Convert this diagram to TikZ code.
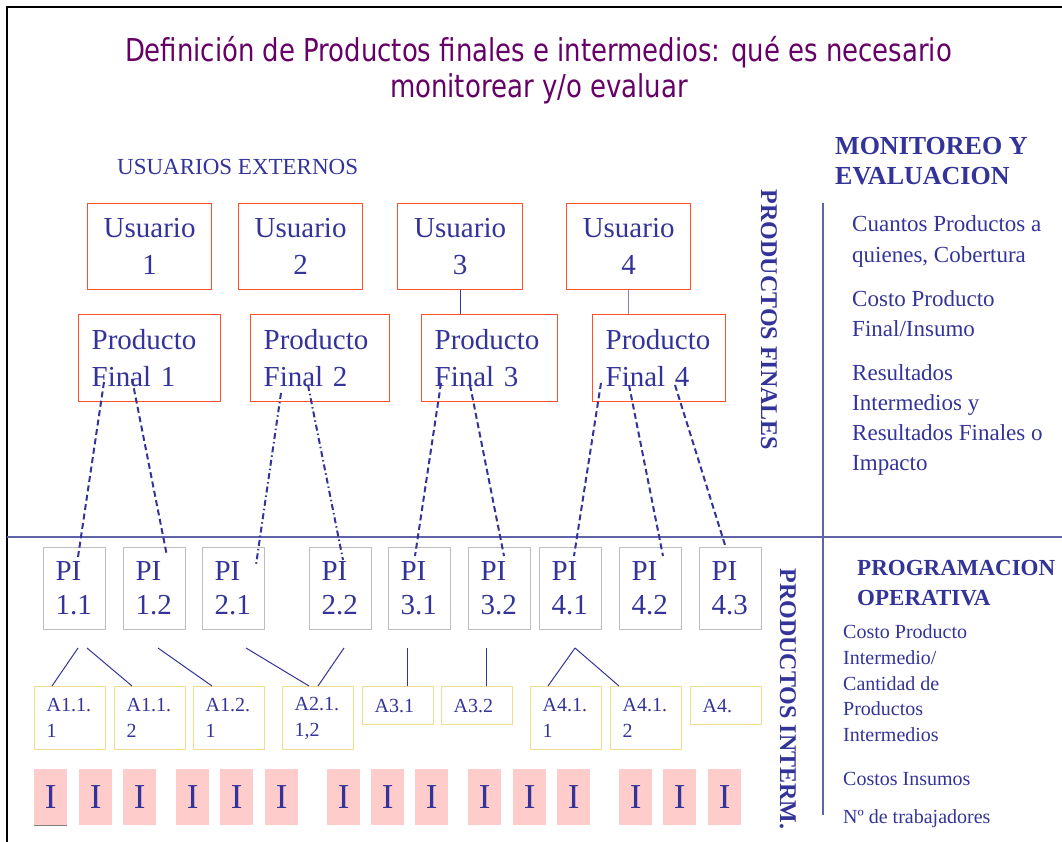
\documentclass[tikz,border=0pt]{standalone}
\usepackage{fontspec}
\usepackage{graphicx}
\setmainfont{Liberation Serif}
\newfontfamily\titlefont{DejaVu Sans}
\definecolor{navy}{RGB}{51,51,153}
\definecolor{ttl}{RGB}{102,0,102}
\definecolor{redb}{RGB}{255,80,40}
\definecolor{grayb}{RGB}{190,190,190}
\definecolor{yelb}{RGB}{240,220,140}
\definecolor{pinkf}{RGB}{255,204,204}
\definecolor{divl}{RGB}{95,100,168}
\definecolor{lightnavy}{RGB}{130,130,190}
\begin{document}
\begin{tikzpicture}[x=1pt,y=-1pt,
  ubox/.style={draw=redb, line width=1.3pt, anchor=north west, minimum width=124pt, minimum height=86pt,
    inner sep=0pt, align=center, text=navy, font=\fontsize{29pt}{37pt}\selectfont},
  pfbox/.style={draw=redb, line width=1.3pt, anchor=north west, minimum height=87pt,
    inner xsep=13pt, inner ysep=0pt, align=left, text=navy, font=\fontsize{29pt}{37pt}\selectfont},
  pibox/.style={draw=grayb, line width=1.2pt, anchor=north west, minimum height=82pt,
    inner xsep=12pt, inner ysep=0pt, text width=38pt, align=left, text=navy, font=\fontsize{29pt}{34pt}\selectfont},
  abox/.style={draw=yelb, line width=1.2pt, anchor=north west,
    inner xsep=12pt, inner ysep=0pt, text width=47pt, align=left, text=navy, font=\fontsize{20pt}{26pt}\selectfont},
  ibox/.style={fill=pinkf, anchor=north west, minimum width=33pt, minimum height=56pt, inner sep=0pt,
    text=navy, font=\fontsize{35pt}{35pt}\selectfont},
  dline/.style={navy, line width=2pt, dash pattern=on 6pt off 3.5pt},
  ddline/.style={navy, line width=2pt, dash pattern=on 6pt off 3pt on 1.5pt off 3pt},
  sline/.style={navy, line width=1pt},
  rtxt/.style={anchor=base west, inner sep=0pt, text=navy, font=\fontsize{23pt}{23pt}\selectfont},
  rbold/.style={anchor=base west, inner sep=0pt, text=navy, font=\fontsize{26pt}{26pt}\selectfont\bfseries},
  ltxt/.style={anchor=base west, inner sep=0pt, text=navy, font=\fontsize{20pt}{20pt}\selectfont},
  vtxt/.style={rotate=-90, inner sep=0pt, text=navy, font=\fontsize{24pt}{24pt}\selectfont\bfseries},
  ttxt/.style={anchor=base, inner sep=0pt, text=ttl, font=\titlefont\fontsize{31.5pt}{31.5pt}\selectfont}
]
\useasboundingbox (0,0) rectangle (1062,842);
% frame
\draw[line width=2.5pt] (7,845) -- (7,7) -- (1065,7);

% title
\node[ttxt] (t1) at (538.5,62) {\resizebox{827pt}{\height}{Definición de Productos finales e intermedios: qué es necesario}};
\node[ttxt] (t2) at (539,98) {\resizebox{298pt}{\height}{monitorear y/o evaluar}};

\node[anchor=base west, inner sep=0pt, text=navy, font=\fontsize{23pt}{23pt}\selectfont] (ue) at (117,175) {USUARIOS EXTERNOS};

% users
\node[ubox] (u1) at (87,203) {Usuario\\1};
\node[ubox] (u2) at (238,203) {Usuario\\2};
\node[ubox, minimum width=125pt] (u3) at (397,203) {Usuario\\3};
\node[ubox] (u4) at (566,203) {Usuario\\4};

% final products
\node[pfbox, text width=116pt] (pf1) at (78,314) {Producto\\Final 1};
\node[pfbox, text width=113pt] (pf2) at (250,314) {Producto\\Final 2};
\node[pfbox, text width=110pt] (pf3) at (421,314) {Producto\\Final 3};
\node[pfbox, text width=107pt] (pf4) at (592,314) {Producto\\Final 4};

\draw[sline] (u3.south) -- (u3.south |- pf3.north);
\draw[lightnavy, line width=1pt] (u4.south) -- (u4.south |- pf4.north);

% dividers
\draw[divl, line width=1.5pt] (7,537) -- (1062,537);
\draw[divl, line width=1.5pt] (823,203) -- (823,815);

% intermediate products
\node[pibox] (pi11) at (43,547) {PI\\1.1};
\node[pibox] (pi12) at (123,547) {PI\\1.2};
\node[pibox] (pi21) at (202,547) {PI\\2.1};
\node[pibox] (pi22) at (309,547) {PI\\2.2};
\node[pibox] (pi31) at (388,547) {PI\\3.1};
\node[pibox] (pi32) at (468,547) {PI\\3.2};
\node[pibox] (pi41) at (539,547) {PI\\4.1};
\node[pibox] (pi42) at (619,547) {PI\\4.2};
\node[pibox] (pi43) at (699,547) {PI\\4.3};

% dashed connectors
\coordinate (f1a) at (104,382); \coordinate (e11) at (78,557);
\coordinate (f1b) at (132,379); \coordinate (e12) at (167,556);
\coordinate (f2a) at (281,393); \coordinate (e21) at (256,565);
\coordinate (f2b) at (308,385); \coordinate (e22) at (343,560);
\coordinate (f3a) at (441,383); \coordinate (e31) at (415,556);
\coordinate (f3b) at (470,385); \coordinate (e32) at (504,556);
\coordinate (f4a) at (601,383); \coordinate (e41) at (574,556);
\coordinate (f4b) at (629,385); \coordinate (e42) at (663,556);
\coordinate (f4c) at (675,385); \coordinate (e43) at (725,545);
\draw[dline] (f1a) -- (e11);
\draw[dline] (f1b) -- (e12);
\draw[ddline] (f2a) -- (e21);
\draw[ddline] (f2b) -- (e22);
\draw[dline] (f3a) -- (e31);
\draw[dline] (f3b) -- (e32);
\draw[dline] (f4a) -- (e41);
\draw[dline] (f4b) -- (e42);
\draw[dline] (f4c) -- (e43);

% activities
\node[abox, minimum height=63pt] (a111) at (34,686) {A1.1.\\1};
\node[abox, minimum height=63pt] (a112) at (114,686) {A1.1.\\2};
\node[abox, minimum height=63pt] (a121) at (193,686) {A1.2.\\1};
\node[abox, minimum height=63pt] (a211) at (282,686) {A2.1.\\1,2};
\node[abox, minimum height=38pt] (a31) at (362,686) {A3.1};
\node[abox, minimum height=38pt] (a32) at (441,686) {A3.2};
\node[abox, minimum height=63pt] (a411) at (530,686) {A4.1.\\1};
\node[abox, minimum height=63pt] (a412) at (610,686) {A4.1.\\2};
\node[abox, minimum height=38pt] (a4) at (690,686) {A4.};

% PI -> A connectors
\coordinate (s1) at (78,648);  \coordinate (s2) at (87,648);
\coordinate (s3) at (158,648); \coordinate (s4) at (246,648);
\coordinate (s5) at (344,648); \coordinate (s6) at (407,648);
\coordinate (s7) at (486,648); \coordinate (s8) at (575,648);
\draw[sline] (s1) -- (a111.north west -| 52,0);
\draw[sline] (s2) -- (a112.north west -| 132,0);
\draw[sline] (s3) -- (a121.north west -| 212,0);
\draw[sline] (s4) -- (a211.north west -| 309,0);
\draw[sline] (s5) -- (a211.north west -| 318,0);
\draw[sline] (s6) -- (a31.north west -| 407,0);
\draw[sline] (s7) -- (a32.north west -| 486,0);
\draw[sline] (s8) -- (a411.north west -| 548,0);
\draw[sline] (s8) -- (a412.north west -| 619,0);

% inputs
\foreach \x [count=\i] in {34,79,123,176,220,265,327,371,415,468,513,557,619,663,708}
  \node[ibox] (in\i) at (\x,769) {I};
\draw[gray, line width=1pt] (in1.south west) -- (in1.south east);

% vertical labels
\node[vtxt] (vpf) at (769,320) {PRODUCTOS FINALES};
\node[vtxt] (vpi) at (788,699) {PRODUCTOS INTERM.};

% right column upper
\node[rbold] (m1) at (835,155) {MONITOREO Y};
\node[rbold] (m2) at (835,185) {EVALUACION};
\node[rtxt] (r1) at (852,232) {Cuantos Productos a};
\node[rtxt] (r2) at (852,262) {quienes, Cobertura};
\node[rtxt] (r3) at (852,306) {Costo Producto};
\node[rtxt] (r4) at (852,336) {Final/Insumo};
\node[rtxt] (r5) at (852,380) {Resultados};
\node[rtxt] (r6) at (852,410) {Intermedios y};
\node[rtxt] (r7) at (852,440) {Resultados Finales o};
\node[rtxt] (r8) at (852,470) {Impacto};

% right column lower
\node[rbold, font=\fontsize{23pt}{23pt}\selectfont\bfseries] (p1) at (857,575) {PROGRAMACION};
\node[rbold, font=\fontsize{23pt}{23pt}\selectfont\bfseries] (p2) at (857,605) {OPERATIVA};
\node[ltxt] (l1) at (843,638) {Costo Producto};
\node[ltxt] (l2) at (843,664) {Intermedio/};
\node[ltxt] (l3) at (843,690) {Cantidad de};
\node[ltxt] (l4) at (843,715) {Productos};
\node[ltxt] (l5) at (843,741) {Intermedios};
\node[ltxt] (l6) at (843,785) {Costos Insumos};
\node[ltxt] (l7) at (843,823) {Nº de trabajadores};
\end{tikzpicture}
\end{document}
